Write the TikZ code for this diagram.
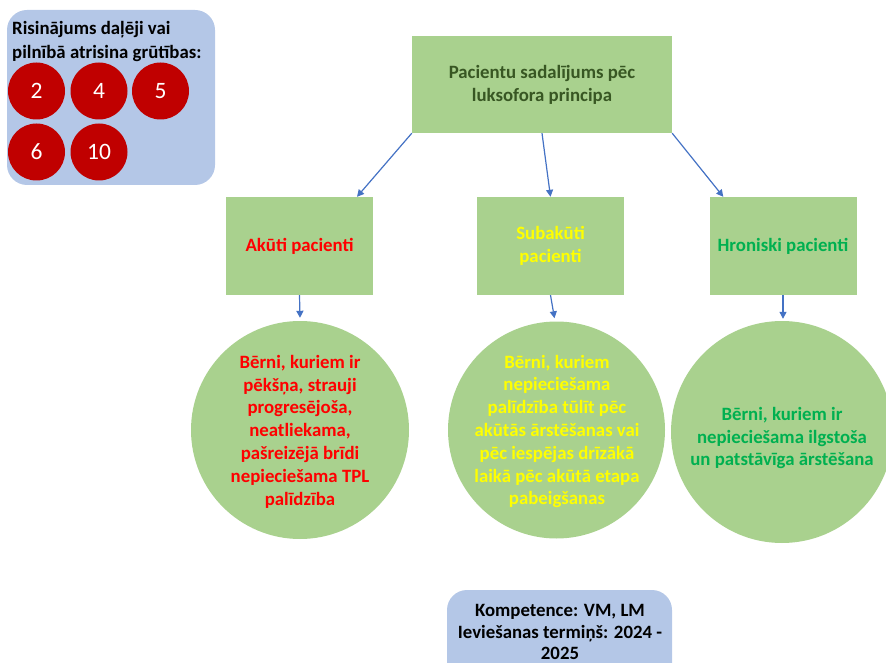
\documentclass[tikz,border=0pt]{standalone}
\usepackage{fontspec}
\setmainfont{Carlito}
\usetikzlibrary{arrows.meta,calc}
\definecolor{boxgreen}{HTML}{A9D18E}
\definecolor{legendblue}{HTML}{B4C7E7}
\definecolor{ballred}{HTML}{C00000}
\definecolor{arrowblue}{HTML}{4472C4}
\definecolor{titlegreen}{HTML}{385723}
\definecolor{chrongreen}{HTML}{00B050}
\definecolor{txtred}{HTML}{FF0000}
\definecolor{txtyellow}{HTML}{FFFF00}
\begin{document}
\begin{tikzpicture}[x=1pt,y=-1pt,
  catbox/.style={fill=boxgreen, draw=none, minimum width=147pt, minimum height=98pt, inner sep=0pt,
    font=\bfseries\fontsize{18.8}{23}\selectfont, align=center},
  blob/.style={circle, fill=boxgreen, draw=none, inner sep=0pt, minimum size=#1},
  ctext/.style={font=\bfseries\fontsize{18.8}{22.8}\selectfont, align=center, inner sep=0pt},
  redball/.style={circle, fill=ballred, draw=none, minimum size=57pt, inner sep=0pt, text=white,
    font=\fontsize{23.5}{26}\selectfont},
  arr/.style={draw=arrowblue, line width=1.2pt, -{Triangle[width=7pt,length=7pt]}}
]
\useasboundingbox (0,0) rectangle (886,663);
\clip (0,0) rectangle (886,663);

% legend box
\node (legend) [fill=legendblue, rounded corners=20pt, minimum width=208pt, minimum height=175pt, inner sep=0pt] at (111,97.5) {};
\node (legtext) [anchor=west, align=left, inner sep=0pt, font=\bfseries\fontsize{18.8}{24}\selectfont] at (12,41) {Risinājums daļēji vai\\pilnībā atrisina grūtības:};
\node (b2) [redball] at (36.5,91) {2};
\node (b4) [redball] at (99,91) {4};
\node (b5) [redball] at (160.5,91) {5};
\node (b6) [redball] at (36.5,152) {6};
\node (b10) [redball] at (99,152) {10};

% top box
\node (top) [catbox, minimum width=260pt, minimum height=97pt, text=titlegreen] at (542,84.5) {Pacientu sadalījums pēc\\luksofora principa};

% category boxes
\node (ak) [catbox, text=txtred] at (299.5,246) {Akūti pacienti};
\node (sub) [catbox, text=txtyellow] at (550.5,246) {Subakūti\\pacienti};
\node (hr) [catbox, text=chrongreen] at (783,246) {Hroniski pacienti};

% circles
\node (c1) [blob=218pt] at (300,430) {};
\node (c2) [blob=217pt] at (556.5,430) {};
\node (c3) [blob=222pt] at (782,432) {};
\node (t1) [ctext, text=txtred] at (300,431.5) {Bērni, kuriem ir\\pēkšņa, strauji\\progresējoša,\\neatliekama,\\pašreizējā brīdi\\nepieciešama TPL\\palīdzība};
\node (t2) [ctext, text=txtyellow] at (557,431.5) {Bērni, kuriem\\nepieciešama\\palīdzība tūlīt pēc\\akūtās ārstēšanas vai\\pēc iespējas drīzākā\\laikā pēc akūtā etapa\\pabeigšanas};
\node (t3) [ctext, text=chrongreen] at (782,438) {Bērni, kuriem ir\\nepieciešama ilgstoša\\un patstāvīga ārstēšana};

% bottom box
\node (comp) [fill=legendblue, rounded corners=20pt, minimum width=225pt, minimum height=100pt, inner sep=0pt] at (559.5,640) {};
\node (comptext) [ctext, font=\bfseries\fontsize{18.8}{21.8}\selectfont] at (560,632) {Kompetence: VM, LM\\Ieviešanas termiņš: 2024 -\\2025};

% arrows
\draw[arr] (top.south west) -- ($(ak.north west)!0.89!(ak.north east)$);
\draw[arr] ($(top.south west)!0.5!(top.south east)$) -- ($(sub.north west)!0.5!(sub.north east)$);
\draw[arr] (top.south east) -- ($(hr.north west)!0.095!(hr.north east)$);
\draw[arr] (ak.south) -- ($(c1.north)+(0,-3)$);
\draw[arr] (sub.south) -- ($(c2.north)+(-2,-3)$);
\draw[arr] (hr.south) -- ($(c3.north)+(1,-2)$);
\end{tikzpicture}
\end{document}
